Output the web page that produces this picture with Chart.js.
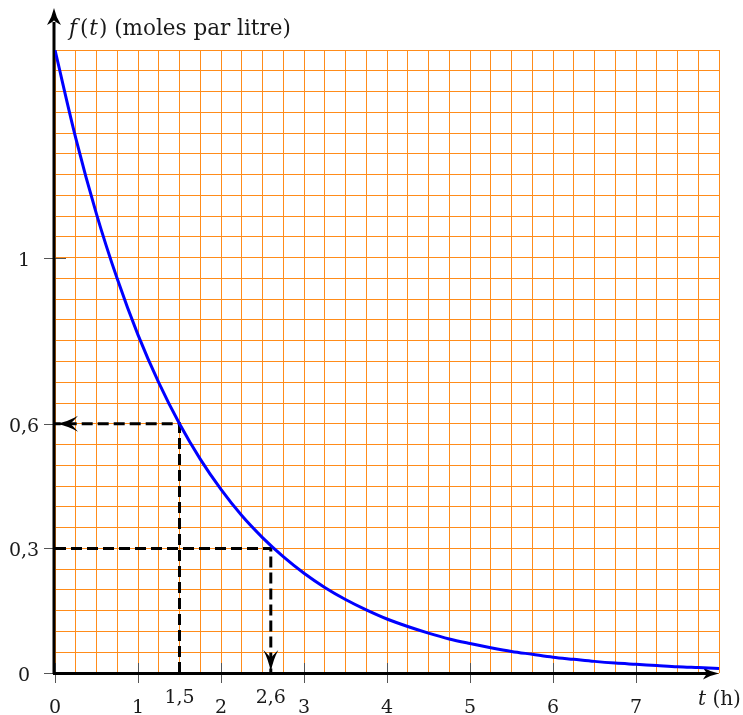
<!DOCTYPE html>
<html><head><meta charset="utf-8">
<script src="https://cdn.jsdelivr.net/npm/chart.js@4/dist/chart.umd.min.js"></script>
<style>html,body{margin:0;padding:0;background:#fff}#wrap{width:743px;height:715px;position:relative}</style>
</head><body><div id="wrap"><canvas id="c" width="743" height="715"></canvas></div>
<script>
// ---- data ----
const tValues = [0,0.25,0.5,0.75,1,1.25,1.5,1.75,2,2.25,2.5,2.75,3,3.25,3.5,3.75,4,4.25,4.5,4.75,5,5.25,5.5,5.75,6,6.25,6.5,6.75,7,7.25,7.5,7.75,8];
const fValues = [1.5,1.288,1.105,0.949,0.814,0.699,0.6,0.515,0.442,0.379,0.326,0.28,0.24,0.206,0.177,0.152,0.13,0.112,0.096,0.082,0.071,0.061,0.052,0.045,0.038,0.033,0.028,0.024,0.021,0.018,0.015,0.013,0.011];
const readA_t = [1.5,1.5,0];
const readA_f = [0,0.6,0.6];
const readB_t = [0,2.6,2.6];
const readB_f = [0.3,0.3,0];
const xTickValues = [0,1,2,3,4,5,6,7];
const xTickLabels = ['0','1','2','3','4','5','6','7'];
const xMarkValues = [1.5,2.6];
const xMarkLabels = ['1,5','2,6'];
const yTickValues = [0,0.3,0.6,1];
const yTickLabels = ['0','0,3','0,6','1'];
const xMin = 0, xMax = 8, xStep = 0.25;
const yMin = 0, yMax = 1.5, yStep = 0.05;
const titleParts = [['f','italic',3],['(','normal',1],['t','italic',1],[')','normal',0],[' (moles par litre)','normal',0]];
const xTitleParts = [['t','italic',0],[' (h)','normal',0]];

const FONT = '"DejaVu Serif", serif';
const GRID = '#ff8c1a';

function toPts(xs, ys){ return xs.map((v,i)=>({x:v,y:ys[i]})); }

function filledArrow(ctx, tx, ty, dx, dy, len, half, notch){
  const px = -dy, py = dx;
  const bx = tx - dx*len, by = ty - dy*len;
  const nk = notch || 0.72;
  const nx = tx - dx*len*nk, ny = ty - dy*len*nk;
  ctx.beginPath();
  ctx.moveTo(tx, ty);
  ctx.quadraticCurveTo(tx - dx*len*0.55 + px*half*0.3, ty - dy*len*0.55 + py*half*0.3, bx + px*half, by + py*half);
  ctx.quadraticCurveTo(nx - dx*len*0.1 + px*half*0.15, ny - dy*len*0.1 + py*half*0.15, nx, ny);
  ctx.quadraticCurveTo(nx - dx*len*0.1 - px*half*0.15, ny - dy*len*0.1 - py*half*0.15, bx - px*half, by - py*half);
  ctx.quadraticCurveTo(tx - dx*len*0.55 - px*half*0.3, ty - dy*len*0.55 - py*half*0.3, tx, ty);
  ctx.closePath();
  ctx.fill();
}
function drawParts(ctx, parts, x, y, size){
  let cx = x;
  parts.forEach(([txt, st, gap])=>{
    ctx.font = st + ' ' + size + 'px ' + FONT;
    ctx.fillText(txt, cx, y);
    cx += ctx.measureText(txt).width + gap;
  });
}

const deco = {
  id: 'deco',
  beforeDatasetsDraw(chart){
    const {ctx, scales:{x, y}} = chart;
    const x0 = x.getPixelForValue(0), y0 = y.getPixelForValue(0), xEnd = x.getPixelForValue(xMax);
    ctx.save();
    ctx.strokeStyle = '#555'; ctx.lineWidth = 1;
    xTickValues.forEach(v=>{
      const px = Math.round(x.getPixelForValue(v)) + 0.5;
      ctx.beginPath(); ctx.moveTo(px, y0 - 10); ctx.lineTo(px, y0 + 10); ctx.stroke();
    });
    yTickValues.forEach(v=>{
      const py = Math.round(y.getPixelForValue(v)) + 0.5;
      ctx.beginPath(); ctx.moveTo(x0 - 11, py); ctx.lineTo(x0 + 11, py); ctx.stroke();
    });
    ctx.strokeStyle = '#000'; ctx.fillStyle = '#000'; ctx.lineWidth = 3;
    ctx.beginPath(); ctx.moveTo(x0 - 1, y0 + 1); ctx.lineTo(x0 - 1, 22); ctx.stroke();
    ctx.beginPath(); ctx.moveTo(x0 - 2, y0 + 0.5); ctx.lineTo(xEnd - 8, y0 + 0.5); ctx.stroke();
    filledArrow(ctx, x0 - 1, 8, 0, -1, 17, 7);
    filledArrow(ctx, xEnd, y0 + 0.5, 1, 0, 16, 6);
    ctx.restore();
  },
  afterDatasetsDraw(chart){
    const {ctx, scales:{x, y}} = chart;
    const x0 = x.getPixelForValue(0), y0 = y.getPixelForValue(0);
    ctx.save();
    ctx.fillStyle = '#000'; ctx.strokeStyle = '#000';
    // dashed-line arrowheads
    filledArrow(ctx, x0 + 2, y.getPixelForValue(readA_f[2]), -1, 0, 21, 8, 0.62);
    filledArrow(ctx, x.getPixelForValue(readB_t[2]), y0 - 1, 0, 1, 22, 7.5, 0.62);
    // labels
    ctx.fillStyle = '#1a1a1a';
    ctx.textAlign = 'center'; ctx.textBaseline = 'alphabetic';
    ctx.font = '19px ' + FONT;
    xTickValues.forEach((v,i)=> ctx.fillText(xTickLabels[i], x.getPixelForValue(v), 713));
    xMarkValues.forEach((v,i)=> ctx.fillText(xMarkLabels[i], x.getPixelForValue(v), 703));
    yTickValues.forEach((v,i)=> ctx.fillText(yTickLabels[i], 24, y.getPixelForValue(v) + 8));
    ctx.textAlign = 'left';
    drawParts(ctx, titleParts, 69, 35, 21.5);
    drawParts(ctx, xTitleParts, 698, 705, 20);
    ctx.restore();
  }
};

new Chart(document.getElementById('c'), {
  type: 'line',
  data: {
    datasets: [
      { data: toPts(tValues, fValues), borderColor: '#0000ff', borderWidth: 3, pointRadius: 0, cubicInterpolationMode: 'monotone', fill: false },
      { data: toPts(readA_t, readA_f), borderColor: '#000', borderWidth: 3, borderDash: [11,5], pointRadius: 0, fill: false, tension: 0 },
      { data: toPts(readB_t, readB_f), borderColor: '#000', borderWidth: 3, borderDash: [11,5], pointRadius: 0, fill: false, tension: 0 }
    ]
  },
  options: {
    responsive: false, animation: false, devicePixelRatio: 1,
    layout: { padding: { top: 50, right: 24, left: 0, bottom: 0 } },
    plugins: { legend: { display: false }, tooltip: { enabled: false } },
    scales: {
      x: { type: 'linear', min: xMin, max: xMax,
           ticks: { stepSize: xStep, display: false },
           grid: { color: GRID, lineWidth: 1, drawTicks: false },
           border: { display: false },
           afterFit(s){ s.height = 42; } },
      y: { type: 'linear', min: yMin, max: yMax,
           ticks: { stepSize: yStep, display: false },
           grid: { color: GRID, lineWidth: 1, drawTicks: false },
           border: { display: false },
           afterFit(s){ s.width = 55; } }
    }
  },
  plugins: [deco]
});
</script>
</body></html>
